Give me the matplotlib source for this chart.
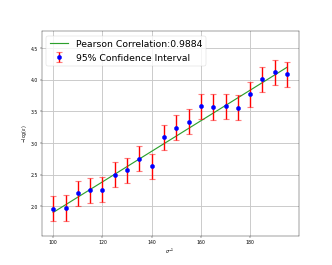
import matplotlib
matplotlib.use("Agg")
import matplotlib.pyplot as plt
import numpy as np

# values
inv_sigma = [100, 105, 110, 115, 120, 125, 130, 135, 140, 145,
             150, 155, 160, 165, 170, 175, 180, 185, 190, 195]
neg_log = [1.96, 1.97, 2.20, 2.25, 2.26, 2.50, 2.57, 2.75, 2.63, 3.09,
           3.24, 3.34, 3.58, 3.57, 3.58, 3.56, 3.77, 4.01, 4.12, 4.09]
ci_half = [0.20] * 20
fit_ends = [1.90, 4.20]
pearson = 0.9884

fig, ax = plt.subplots(figsize=(10, 8), dpi=33.2)

ax.plot([inv_sigma[0], inv_sigma[-1]], fit_ends, color="tab:green", lw=2.5,
        label=f"Pearson Correlation:{pearson}")
_, caps, bars = ax.errorbar(inv_sigma, neg_log, yerr=ci_half, fmt="o",
                            color="blue", ms=9, ecolor="red", elinewidth=3,
                            capsize=6, capthick=2.5,
                            label="95% Confidence Interval")
for c in caps:
    c.set_alpha(0.5)

ax.set_ylim(1.53, 4.77)
ax.grid(True, lw=2, color="#c8c8c8")
ax.set_xlabel(r"$\sigma^{-1}$")
ax.set_ylabel(r"$-\log(\epsilon)$")
ax.legend(loc="upper left", fontsize=20)

fig.savefig("out.png", dpi=33.2, facecolor="white")
